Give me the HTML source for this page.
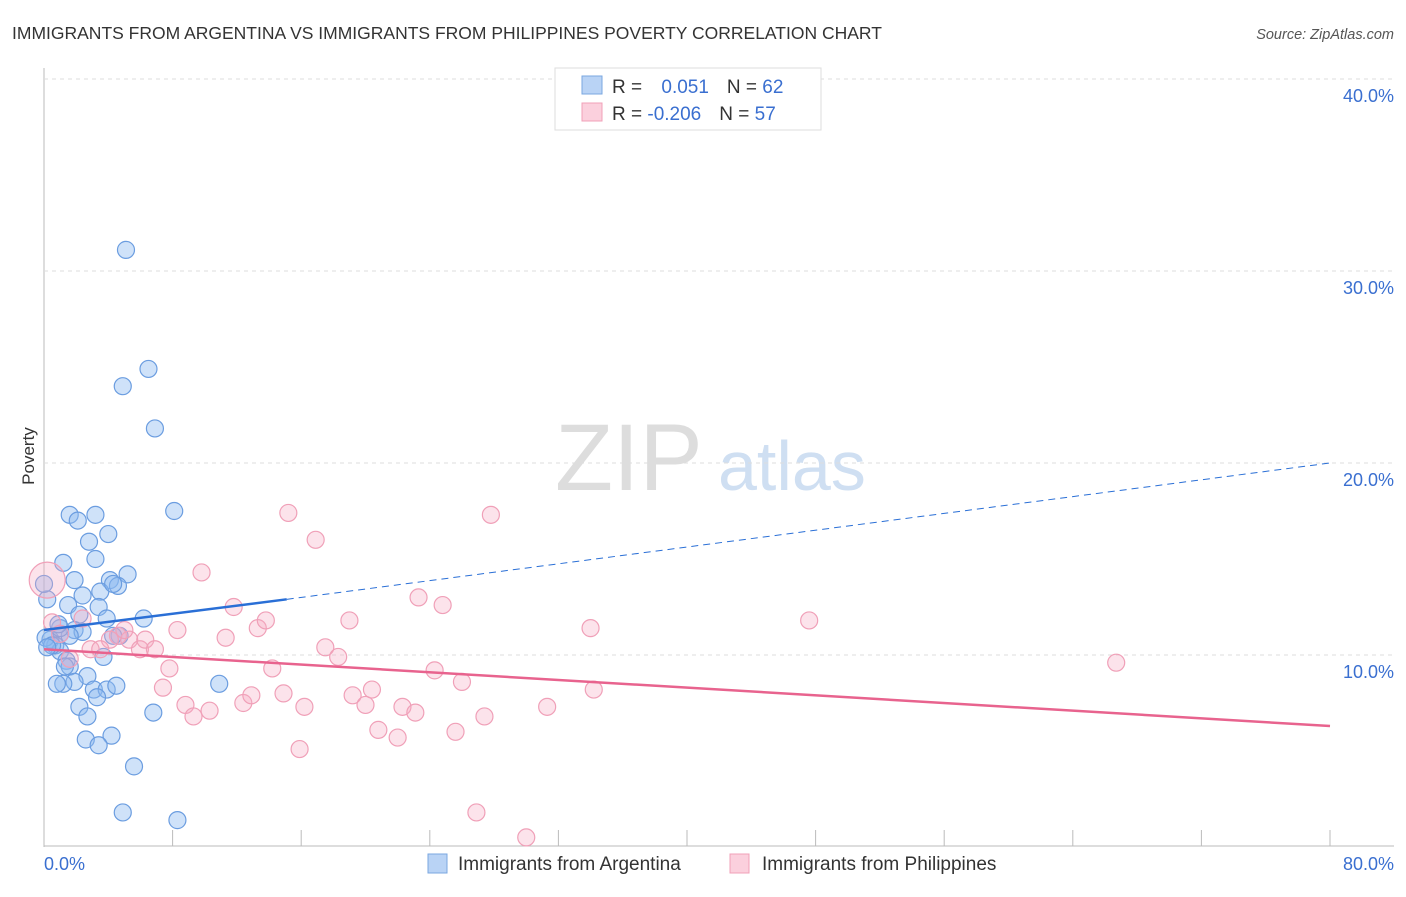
<!DOCTYPE html>
<html><head><meta charset="utf-8"><style>
body{margin:0;background:#fff;font-family:"Liberation Sans",sans-serif}
svg text{font-family:"Liberation Sans",sans-serif}
</style></head><body>
<svg id="c" width="1406" height="892" xmlns="http://www.w3.org/2000/svg">
<text x="12" y="39" font-size="17.5" fill="#333">IMMIGRANTS FROM ARGENTINA VS IMMIGRANTS FROM PHILIPPINES POVERTY CORRELATION CHART</text>
<text x="1394" y="39" font-size="14.5" fill="#555" font-style="italic" text-anchor="end">Source: ZipAtlas.com</text>
<text x="34" y="456" font-size="17" fill="#333" transform="rotate(-90 34 456)" text-anchor="middle">Poverty</text>
<text x="555" y="490" font-size="95" fill="#ddd" font-family="Liberation Serif">ZIP</text>
<text x="718" y="490" font-size="70" fill="#cfdff2">atlas</text>
<g id="grid"></g><g id="marks"></g>
<g>
<rect x="555" y="68" width="266" height="62" fill="#fff" stroke="#ddd"/>
<rect x="582" y="76" width="20" height="18" fill="#b9d3f5" stroke="#7aa7e0"/>
<rect x="582" y="103" width="20" height="18" fill="#fbd0dd" stroke="#f0a0b8"/>
<text x="612" y="93" font-size="19" fill="#333">R = <tspan fill="#3a6fd0" dx="14">0.051</tspan><tspan dx="18" fill="#333">N = </tspan><tspan fill="#3a6fd0">62</tspan></text>
<text x="612" y="120" font-size="19" fill="#333">R = <tspan fill="#3a6fd0">-0.206</tspan><tspan dx="18" fill="#333">N = </tspan><tspan fill="#3a6fd0">57</tspan></text>
</g>
<g>
<rect x="428" y="854" width="19" height="19" fill="#b9d3f5" stroke="#7aa7e0"/>
<text x="458" y="870" font-size="19" fill="#333">Immigrants from Argentina</text>
<rect x="730" y="854" width="19" height="19" fill="#fbd0dd" stroke="#f0a0b8"/>
<text x="762" y="870" font-size="19" fill="#333">Immigrants from Philippines</text>
</g>
<text x="44" y="870" font-size="18" fill="#3a6fd0">0.0%</text>
<text x="1394" y="870" font-size="18" fill="#3a6fd0" text-anchor="end">80.0%</text>
</svg>
<script>
const yTicks=[10,20,30,40];
const xTicks=[0,8,16,24,32,40,48,56,64,72,80];
const blueX=[5.1,6.5,4.9,6.9,8.1,1.6,3.2,2.1,4.0,2.8,3.2,1.2,1.9,4.1,5.2,3.5,4.6,4.3,2.4,0.2,1.5,3.4,3.9,6.2,2.2,1.9,2.4,1.0,4.7,0.4,0.7,1.0,3.7,1.4,1.6,2.7,1.9,1.2,0.8,3.1,3.9,4.5,10.9,3.3,2.2,6.8,2.7,2.6,4.2,3.4,5.6,4.9,8.3,0.1,0.5,0.2,1.6,1.0,4.3,1.3,0.9,0];
const blueY=[31.1,24.9,24.0,21.8,17.5,17.3,17.3,17.0,16.3,15.9,15.0,14.8,13.9,13.9,14.2,13.3,13.6,13.7,13.1,12.9,12.6,12.5,11.9,11.9,12.1,11.3,11.2,11.1,11.0,10.8,10.5,10.2,9.9,9.7,9.4,8.9,8.6,8.5,8.5,8.2,8.2,8.4,8.5,7.8,7.3,7.0,6.8,5.6,5.8,5.3,4.2,1.8,1.4,10.9,10.5,10.4,11.0,11.4,11.0,9.4,11.6,13.7];
const pinkX=[0.2,0.5,1.0,2.4,2.9,4.6,4.1,5.3,5.97,6.3,6.9,7.8,7.4,8.3,8.8,9.3,9.8,10.3,11.3,11.8,12.4,12.9,13.3,13.8,14.2,14.9,15.2,16.2,15.9,16.9,17.5,18.3,19.0,19.2,20.0,20.4,20.8,22.0,22.3,23.1,23.3,24.8,24.3,26.0,25.6,27.4,27.8,26.9,30.0,31.3,34.0,34.2,47.6,66.7,1.6,3.5,5.0];
const pinkY=[13.9,11.7,11.1,11.9,10.3,11.0,10.8,10.8,10.3,10.8,10.3,9.3,8.3,11.3,7.4,6.8,14.3,7.1,10.9,12.5,7.5,7.9,11.4,11.8,9.3,8.0,17.4,7.3,5.1,16.0,10.4,9.9,11.8,7.9,7.4,8.2,6.1,5.7,7.3,7.0,13.0,12.6,9.2,8.6,6.0,6.8,17.3,1.8,0.5,7.3,11.4,8.2,11.8,9.6,9.8,10.3,11.3];
const sx=v=>44+v*16.075, sy=v=>847-v*19.2;
const NS="http://www.w3.org/2000/svg";
const grid=document.getElementById('grid'), marks=document.getElementById('marks');
function mk(p,tag,a){const e=document.createElementNS(NS,tag);for(const k in a)e.setAttribute(k,a[k]);p.appendChild(e);return e;}
const ax=mk(grid,'line',{x1:44,y1:68,x2:44,y2:847,stroke:'#bbb'});


const bx=mk(grid,'line',{x1:44,y1:846,x2:1394,y2:846,stroke:'#bbb'});


yTicks.forEach(t=>{
 const g=mk(grid,'line',{x1:44,x2:1394,y1:sy(t),y2:sy(t),stroke:'#ddd','stroke-dasharray':'4 4'});
 
 
 const tx=mk(grid,'text',{x:1394,y:sy(t)+23,'text-anchor':'end','font-size':18,fill:'#3a6fd0'});tx.textContent=t.toFixed(1)+'%';
 
 
});
xTicks.forEach(t=>{
 const l=mk(grid,'line',{x1:sx(t),x2:sx(t),y1:830,y2:846,stroke:'#bbb'});
 
 
});
blueX.forEach((x,i)=>{
 const c=mk(marks,'circle',{cx:sx(x),cy:sy(blueY[i]),r:8.5,fill:'rgba(140,185,240,0.42)',stroke:'#6b9de0','stroke-width':1.2});
 
 
});
pinkX.forEach((x,i)=>{
 const c=mk(marks,'circle',{cx:sx(x),cy:sy(pinkY[i]),r:i==0?18:8.5,fill:'rgba(245,170,195,0.33)',stroke:'#f0a0b8','stroke-width':1.2});
 
 
});
const bt=mk(marks,'line',{x1:sx(0),y1:sy(11.3),x2:sx(15.1),y2:sy(12.9),stroke:'#2a6fd6','stroke-width':2.5});


const bd=mk(marks,'line',{x1:sx(15.1),y1:sy(12.9),x2:sx(80),y2:sy(20),stroke:'#2a6fd6','stroke-width':1,'stroke-dasharray':'7 5'});


const pt=mk(marks,'line',{x1:sx(0),y1:sy(10.3),x2:sx(80),y2:sy(6.3),stroke:'#e8638e','stroke-width':2.5});


</script>
</body></html>
